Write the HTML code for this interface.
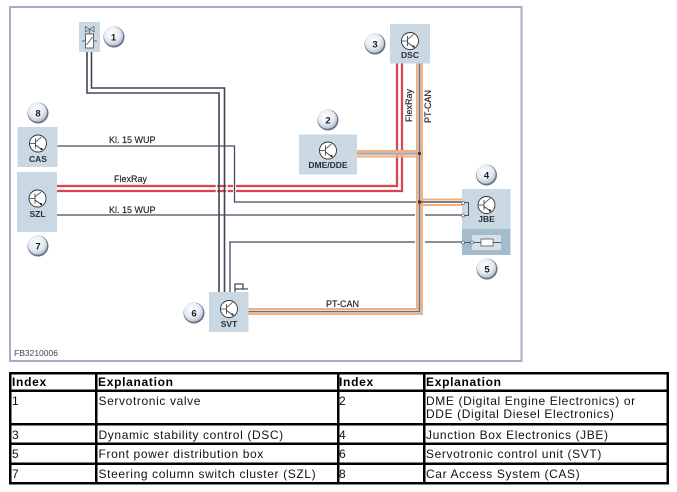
<!DOCTYPE html>
<html><head><meta charset="utf-8"><style>
html,body{margin:0;padding:0;background:#fff}
svg{display:block}
text{font-family:"Liberation Sans",Arial,sans-serif}
.d{font-size:9px;fill:#222;stroke:#222;stroke-width:.15}
.l{font-size:8.5px;font-weight:bold;fill:#2a2f38;text-anchor:middle}
.n{font-size:9.5px;font-weight:bold;fill:#1c1c1c;text-anchor:middle}
.t{font-size:12px;fill:#111;letter-spacing:.62px}
.h{font-size:12px;font-weight:bold;fill:#000;letter-spacing:.7px}
.g{fill:none;stroke:#444c5c;stroke-width:1.3}
.w{fill:none;stroke:#3e4656;stroke-width:1.6}
.o{fill:none;stroke:#f2b07a;stroke-width:2}
.r{fill:none;stroke:#d8474f;stroke-width:2}
.p{fill:none;stroke:#f8d8d8;stroke-width:3.2}
.s{fill:none;stroke:#c4c6ce;stroke-width:3.2}
</style></head><body>
<svg width="677" height="492" viewBox="0 0 677 492" xmlns="http://www.w3.org/2000/svg">
<defs>
<radialGradient id="b" cx="42%" cy="36%" r="70%"><stop offset="0" stop-color="#fff"/><stop offset=".6" stop-color="#e4eaf2"/><stop offset="1" stop-color="#a9b6c9"/></radialGradient>
<g id="c"><circle r="10.5" fill="#667488"/><circle cx="-.5" cy="-.8" r="9.6" fill="url(#b)"/></g>
<g id="tr"><circle r="8.5" fill="#fff" stroke="#333" stroke-width=".9"/><path d="M-8.5 0H-2.5M-2.5-5V5M-2.5-1.5L3.5-6.5M-2.5 1.5L4.5 6.5" fill="none" stroke="#333" stroke-width=".8"/><circle cx="3.5" cy="5.5" r="1.1" fill="#222"/></g>
</defs>
<rect width="677" height="492" fill="#fff"/>
<rect x="10" y="7" width="511.5" height="354" fill="#fff" stroke="#a4aec6" stroke-width="2"/>

<!-- FlexRay -->
<path class="p" d="M57 186H397V63"/>
<path class="p" d="M57 191H402V63"/>
<path class="r" d="M57 186H397V63"/>
<path class="r" d="M57 191H402V63"/>

<!-- crossing halos over red -->
<path d="M216.500 183V194M227 183V194M234.500 183V194" stroke="#fff" stroke-width="1.500"/>

<!-- Valve wires -->
<path class="w" d="M87 50V93H219V293"/>
<path class="w" d="M91.500 50V88H224.500V293"/>

<!-- Kl15 -->
<path d="M234.500 183V194" stroke="#fff" stroke-width="3"/>
<path class="g" d="M57 146H234.500V202H463"/>
<path class="g" d="M57 215H415M425 215H463"/>
<path class="g" d="M230 292V242H415M425 242H463"/>
<path class="g" d="M235 292V284H243V289M235 289H248"/>

<!-- PT-CAN -->
<path class="s" d="M419.500 63V312H248"/>
<path class="s" d="M357 153.500H419.500"/>
<path class="o" d="M417 63V309H248"/>
<path class="o" d="M422 63V314H248"/>
<path class="o" d="M357 151H422"/>
<path class="o" d="M357 156.500H417"/>
<path class="o" d="M422 199.500H463"/>
<path class="o" d="M417 205H463"/>
<path d="M419.500 63V311.500H248" fill="none" stroke="#666c80" stroke-width="1.100"/>
<path d="M357 153.500H419.500" fill="none" stroke="#b0a49e" stroke-width="1.500"/>
<path d="M420 202H463" fill="none" stroke="#444c5c" stroke-width="1.300"/>
<rect x="418" y="152" width="3" height="3" fill="#444"/>
<rect x="418" y="200.500" width="3" height="3" fill="#334"/>

<!-- Boxes -->
<rect x="79" y="22" width="21" height="30" fill="#c9d8e2"/>
<path d="M85.500 26.500L94 32V26.500L85.500 32Z" fill="none" stroke="#444" stroke-width=".6"/>
<path d="M89.500 30V34" stroke="#444" stroke-width=".7"/>
<rect x="85.500" y="34" width="8" height="14" fill="#fff" stroke="#444" stroke-width=".8"/>
<path d="M82 41H85.500M93.500 41H97M86.500 45L92.500 37" stroke="#444" stroke-width=".7" fill="none"/>

<rect x="17.500" y="127" width="40" height="40" fill="#c9d8e2"/>
<rect x="17" y="172" width="40" height="60" fill="#c9d8e2"/>
<rect x="390" y="24" width="40" height="39.500" fill="#c9d8e2"/>
<rect x="299" y="134.500" width="58" height="40" fill="#c9d8e2"/>
<rect x="209" y="292" width="39.500" height="40" fill="#c9d8e2"/>
<rect x="462" y="189" width="48.500" height="40" fill="#c9d8e2"/>
<rect x="462" y="229" width="48.500" height="26" fill="#a3bbcb"/>
<rect x="472" y="235" width="29" height="15" fill="#d5e0e8"/>
<path d="M463 242.500H501" stroke="#555c6b" stroke-width="1"/>
<rect x="481" y="239" width="12" height="7" fill="#fff" stroke="#555" stroke-width=".8"/>
<path d="M462 202.500H468.500V215.500H462" fill="none" stroke="#4a5262" stroke-width="1"/>
<g fill="#fff" stroke="#667" stroke-width=".8"><circle cx="463" cy="203" r="1.500"/><circle cx="463" cy="215.500" r="1.500"/><circle cx="463" cy="242.500" r="1.500"/><circle cx="472" cy="242.500" r="1.500"/></g>

<use href="#tr" x="38" y="143.500"/>
<use href="#tr" x="37.500" y="198.500"/>
<use href="#tr" x="410" y="41"/>
<use href="#tr" x="328" y="150.500"/>
<use href="#tr" x="229" y="309"/>
<use href="#tr" x="486.500" y="205"/>

<text class="l" x="38" y="162">CAS</text>
<text class="l" x="37.500" y="217">SZL</text>
<text class="l" x="410" y="58">DSC</text>
<text class="l" x="328" y="168">DME/DDE</text>
<text class="l" x="229" y="327">SVT</text>
<text class="l" x="486.500" y="222">JBE</text>

<g><use href="#c" x="114" y="37"/><use href="#c" x="38" y="113"/><use href="#c" x="38" y="246"/><use href="#c" x="375" y="44"/><use href="#c" x="328" y="120"/><use href="#c" x="486.500" y="175"/><use href="#c" x="487" y="269"/><use href="#c" x="194" y="313"/></g>
<text class="n" x="113.500" y="40.500">1</text><text class="n" x="38" y="116.500">8</text><text class="n" x="38" y="249.500">7</text><text class="n" x="375" y="47.500">3</text><text class="n" x="328" y="123.500">2</text><text class="n" x="486.500" y="178.500">4</text><text class="n" x="487" y="272.500">5</text><text class="n" x="194" y="316.500">6</text>

<text class="d" x="109" y="143">Kl. 15 WUP</text>
<text class="d" x="109" y="213">Kl. 15 WUP</text>
<text class="d" x="114" y="182">FlexRay</text>
<text class="d" x="326" y="307">PT-CAN</text>
<text class="d" transform="translate(412,122) rotate(-90)">FlexRay</text>
<text class="d" transform="translate(431,123) rotate(-90)">PT-CAN</text>
<text x="14" y="356" font-size="8.500" fill="#445">FB3210006</text>

<!-- Table -->
<g fill="#000">
<rect x="9" y="372" width="660" height="2.500"/>
<rect x="9" y="389.500" width="660" height="2.500"/>
<rect x="9" y="423" width="660" height="2.500"/>
<rect x="9" y="442.500" width="660" height="2.500"/>
<rect x="9" y="462.500" width="660" height="2.500"/>
<rect x="9" y="482" width="660" height="2.500"/>
<rect x="9" y="372" width="2.500" height="112.500"/>
<rect x="95" y="372" width="2.500" height="112.500"/>
<rect x="337" y="372" width="2.500" height="112.500"/>
<rect x="423" y="372" width="2.500" height="112.500"/>
<rect x="666.500" y="372" width="2.500" height="112.500"/>
</g>
<text class="h" x="12" y="386">Index</text>
<text class="h" x="98" y="386">Explanation</text>
<text class="h" x="339" y="386">Index</text>
<text class="h" x="426" y="386">Explanation</text>
<text class="t" x="12" y="405">1</text>
<text class="t" x="98.500" y="405">Servotronic valve</text>
<text class="t" x="339" y="405">2</text>
<text class="t" x="426" y="405">DME (Digital Engine Electronics) or</text>
<text class="t" x="426" y="418">DDE (Digital Diesel Electronics)</text>
<text class="t" x="12" y="439">3</text>
<text class="t" x="98.500" y="439">Dynamic stability control (DSC)</text>
<text class="t" x="339" y="439">4</text>
<text class="t" x="426" y="439">Junction Box Electronics (JBE)</text>
<text class="t" x="12" y="458">5</text>
<text class="t" x="98.500" y="458">Front power distribution box</text>
<text class="t" x="339" y="458">6</text>
<text class="t" x="426" y="458">Servotronic control unit (SVT)</text>
<text class="t" x="12" y="478">7</text>
<text class="t" x="98.500" y="478">Steering column switch cluster (SZL)</text>
<text class="t" x="339" y="478">8</text>
<text class="t" x="426" y="478">Car Access System (CAS)</text>
</svg>
</body></html>
